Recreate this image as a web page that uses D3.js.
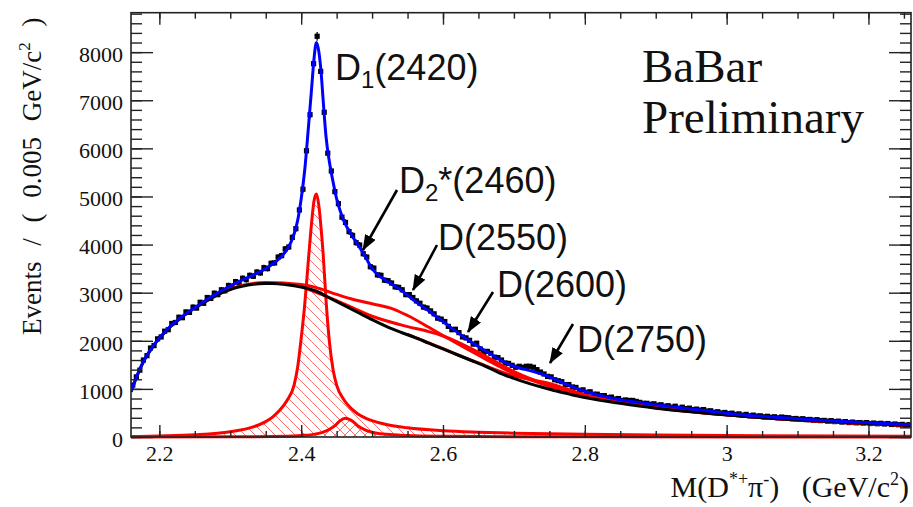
<!DOCTYPE html>
<html><head><meta charset="utf-8">
<script src="https://cdn.jsdelivr.net/npm/d3@7"></script>
<style>body{margin:0;background:#fff} svg{display:block}</style>
</head><body>
<svg id="c" width="913" height="507"></svg>
<script>
// ---------- data ----------
const binStart = 2.16, binWidth = 0.005;
const counts = [
1080,1250,1390,1600,1690,1850,1900,2040,2080,2200,
2230,2360,2380,2490,2480,2600,2590,2700,2680,2800,
2780,2900,2880,2990,2960,3060,3040,3150,3130,3230,
3200,3300,3270,3360,3340,3430,3410,3520,3500,3610,
3620,3740,3770,3910,3950,4150,4330,4720,5150,5950,
6700,7760,8330,7600,6750,5900,5530,5100,4850,4570,
4460,4270,4190,4040,3990,3810,3740,3540,3510,3370,
3360,3260,3250,3200,3120,3110,3060,2960,2960,2900,
2830,2780,2700,2680,2620,2560,2470,2450,2400,2300,
2230,2240,2170,2080,2060,2010,1930,1950,1830,1760,
1780,1740,1660,1650,1600,1540,1530,1490,1450,1470,
1450,1470,1470,1450,1400,1350,1310,1260,1250,1190,
1170,1150,1090,1090,1040,1030,970,980,930,940,
890,890,860,860,820,830,790,800,760,770,
760,760,740,720,700,700,680,690,660,670,
640,650,620,640,600,620,590,600,570,580,
560,570,540,545,515,525,500,510,485,495,
470,480,455,470,440,455,435,440,420,430,
410,420,400,415,405,400,380,385,370,380,
360,365,350,360,340,345,330,340,320,330,
310,320,300,310,295,300,290,300,280,290,
275,285,270,280,260,270,255,262,245,255];

const fitMass = [2.16,2.17,2.18,2.19,2.20,2.21,2.22,2.23,2.24,2.25,2.26,2.27,2.28,2.29,2.30,2.31,2.32,2.33,2.34,2.35,2.36,2.37,2.38,2.385,2.39,2.395,2.40,2.405,2.41,2.415,2.418,2.4215,2.425,2.428,2.431,2.435,2.44,2.445,2.45,2.455,2.46,2.47,2.48,2.49,2.50,2.51,2.52,2.53,2.54,2.55,2.56,2.57,2.58,2.59,2.60,2.61,2.62,2.63,2.64,2.65,2.66,2.67,2.68,2.69,2.70,2.71,2.72,2.73,2.74,2.75,2.76,2.77,2.78,2.79,2.80,2.82,2.84,2.86,2.88,2.90,2.92,2.94,2.96,2.98,3.00,3.05,3.10,3.15,3.20,3.26];
const fitTotal = [940,1330,1640,1870,2060,2220,2360,2480,2590,2690,2790,2885,2975,3060,3140,3215,3285,3350,3420,3500,3600,3720,3900,4030,4220,4500,4950,5550,6400,7300,7850,8200,8000,7600,7000,6250,5700,5300,4950,4700,4500,4220,4000,3760,3500,3350,3250,3160,3060,2950,2830,2720,2620,2510,2400,2290,2180,2070,1970,1880,1790,1700,1610,1530,1470,1425,1390,1350,1305,1250,1190,1120,1060,1000,950,870,800,750,710,670,635,600,565,530,495,430,380,335,295,255];

const bkgMass = [2.16,2.17,2.18,2.19,2.20,2.21,2.22,2.23,2.24,2.25,2.26,2.27,2.28,2.29,2.30,2.31,2.32,2.33,2.34,2.35,2.36,2.37,2.38,2.39,2.40,2.42,2.44,2.46,2.48,2.50,2.52,2.54,2.56,2.58,2.60,2.62,2.64,2.66,2.68,2.70,2.72,2.74,2.76,2.78,2.80,2.85,2.90,2.95,3.00,3.05,3.10,3.15,3.20,3.26];
const bkgValues = [940,1320,1630,1860,2050,2210,2350,2470,2580,2680,2770,2860,2940,3010,3065,3110,3145,3170,3185,3190,3190,3180,3165,3145,3120,3040,2890,2740,2590,2440,2300,2180,2070,1950,1830,1710,1590,1470,1330,1220,1120,1035,955,885,820,700,600,525,455,400,355,315,280,240];

const d1Mass = [2.16,2.20,2.25,2.30,2.33,2.35,2.36,2.37,2.38,2.39,2.395,2.40,2.405,2.41,2.415,2.418,2.4215,2.425,2.428,2.431,2.435,2.44,2.445,2.45,2.46,2.47,2.48,2.50,2.52,2.55,2.60,2.65,2.70,2.80,2.90,3.00,3.26];
const d1Values = [8,20,45,110,200,320,420,560,760,1080,1450,2050,2750,3650,4500,4900,5050,4800,4350,3800,2850,1950,1400,1080,780,600,480,340,260,190,130,100,80,55,40,30,15];

const d2Mass = [2.16,2.30,2.38,2.40,2.42,2.43,2.44,2.45,2.455,2.462,2.47,2.475,2.48,2.49,2.50,2.52,2.55,2.60,2.70,2.80,3.26];
const d2Values = [0,3,15,30,60,95,160,270,340,390,350,300,230,150,100,55,30,15,6,3,0];

const d2550Mass = [2.25,2.30,2.35,2.40,2.42,2.45,2.47,2.50,2.53,2.55,2.58,2.60,2.65,2.70,2.75,2.80,2.90,3.00,3.10,3.26];
const d2550Values = [2682,3075,3210,3170,3110,2965,2875,2770,2660,2525,2280,2110,1700,1320,1055,855,612,460,357,241];

const d2600Mass = [2.40,2.45,2.50,2.55,2.58,2.60,2.62,2.65,2.70,2.75,2.80,2.90,3.00,3.26];
const d2600Values = [3125,2835,2510,2295,2190,2100,1980,1760,1360,1070,860,615,460,240];

const d2750Mass = [2.55,2.60,2.65,2.70,2.73,2.75,2.77,2.80,2.85,2.90,3.00,3.26];
const d2750Values = [2135,1835,1540,1270,1175,1115,1020,875,720,610,460,240];

const xTickValues = [2.2,2.4,2.6,2.8,3.0,3.2];
const xTickLabels = ["2.2","2.4","2.6","2.8","3","3.2"];
const xMinorValues = d3.range(0,22).map(i => +(2.2 + i*0.05).toFixed(2)).filter(v => v <= 3.26);
const yTickValues = [0,1000,2000,3000,4000,5000,6000,7000,8000];
const yTickLabels = ["0","1000","2000","3000","4000","5000","6000","7000","8000"];
const yMinorValues = d3.range(0,45).map(i => i*200);

const peakLabels = [
  {main:"D", sub:"1", rest:"(2420)", x:335, y:80},
  {main:"D", sub:"2", rest:"*(2460)", x:399, y:193},
  {main:"D", sub:"", rest:"(2550)", x:438, y:250},
  {main:"D", sub:"", rest:"(2600)", x:497, y:297},
  {main:"D", sub:"", rest:"(2750)", x:577, y:352}
];
const arrows = [
  {x1:397,y1:190,x2:363,y2:250},
  {x1:437,y1:245,x2:413,y2:290},
  {x1:493,y1:292,x2:468,y2:332},
  {x1:573,y1:324,x2:550,y2:363}
];

// ---------- drawing ----------
const L=131, R=911, T=12.7, B=437;
const svg = d3.select("#c");
const x = d3.scaleLinear().domain([2.16,3.26]).range([L,R]);
const y = d3.scaleLinear().domain([0,8820]).range([B,T]);

const defs = svg.append("defs");
defs.append("clipPath").attr("id","clip").append("rect")
  .attr("x",L).attr("y",T).attr("width",R-L).attr("height",B-T+2);
const p1 = defs.append("pattern").attr("id","hatchA").attr("patternUnits","userSpaceOnUse")
  .attr("width",10).attr("height",10);
p1.append("path").attr("d","M0,0L10,10M-2,8L2,12M8,-2L12,2")
  .attr("stroke","#ff7070").attr("stroke-width",1).attr("fill","none");
const p2 = defs.append("pattern").attr("id","hatchB").attr("patternUnits","userSpaceOnUse")
  .attr("width",10).attr("height",10);
p2.append("path").attr("d","M0,10L10,0M-2,2L2,-2M8,12L12,8")
  .attr("stroke","#ff7070").attr("stroke-width",1).attr("fill","none");
defs.append("marker").attr("id","arrowHead").attr("markerUnits","userSpaceOnUse")
  .attr("viewBox","0 0 16 12").attr("refX",15).attr("refY",6)
  .attr("markerWidth",16).attr("markerHeight",12).attr("orient","auto")
  .append("path").attr("d","M0,0L16,6L0,12Z").attr("fill","#000");

const plot = svg.append("g").attr("clip-path","url(#clip)");
const pairs = (ms, vs) => ms.map((m,i)=>[m, vs[i]]);
const line = d3.line().x(d=>x(d[0])).y(d=>y(d[1])).curve(d3.curveMonotoneX);
const area = d3.area().x(d=>x(d[0])).y0(y(0)).y1(d=>y(d[1])).curve(d3.curveMonotoneX);

// hatched narrow peaks
plot.append("path").attr("d",area(pairs(d1Mass,d1Values))).attr("fill","url(#hatchA)");
plot.append("path").attr("d",area(pairs(d2Mass,d2Values))).attr("fill","url(#hatchB)");

// data points
const pts = counts.map((c,i)=>({m: binStart + binWidth*(i+0.5), v: c}));
const dg = plot.append("g");
dg.selectAll("line.err").data(pts).enter().append("line")
  .attr("x1",d=>x(d.m)).attr("x2",d=>x(d.m))
  .attr("y1",d=>y(d.v+Math.sqrt(d.v))).attr("y2",d=>y(d.v-Math.sqrt(d.v)))
  .attr("stroke","#000").attr("stroke-width",1.3);
dg.selectAll("rect.pt").data(pts).enter().append("rect")
  .attr("x",d=>x(d.m)-2.6).attr("y",d=>y(d.v)-2.6).attr("width",5.2).attr("height",5.2)
  .attr("fill","#000");

// component curves
const red = "#ff0000";
[[d1Mass,d1Values],[d2Mass,d2Values],[d2550Mass,d2550Values],[d2600Mass,d2600Values],[d2750Mass,d2750Values]]
 .forEach(([ms,vs])=>{
  plot.append("path").attr("d",line(pairs(ms,vs))).attr("fill","none")
    .attr("stroke",red).attr("stroke-width",3);
 });
plot.append("path").attr("d",line(pairs(bkgMass,bkgValues))).attr("fill","none")
  .attr("stroke","#000").attr("stroke-width",3);
plot.append("path").attr("d",line(pairs(fitMass,fitTotal))).attr("fill","none")
  .attr("stroke","#0000ff").attr("stroke-width",3);

// axes
const serif = "'Liberation Serif','Times New Roman',serif";
function styleAxis(g){ g.select(".domain").remove(); g.selectAll("line").attr("stroke","#222").attr("stroke-width",1.4); }
svg.append("g").attr("transform",`translate(0,${B})`)
  .call(d3.axisBottom(x).tickValues(xMinorValues).tickSize(-6).tickFormat("")).call(styleAxis);
svg.append("g").attr("transform",`translate(0,${B})`)
  .call(d3.axisBottom(x).tickValues(xTickValues).tickSize(-12).tickPadding(8)
  .tickFormat((d,i)=>xTickLabels[i])).call(styleAxis)
  .selectAll("text").attr("font-family",serif).attr("font-size",22).attr("fill","#111");
svg.append("g").attr("transform",`translate(0,${T})`)
  .call(d3.axisTop(x).tickValues(xMinorValues).tickSize(-6).tickFormat("")).call(styleAxis);
svg.append("g").attr("transform",`translate(0,${T})`)
  .call(d3.axisTop(x).tickValues(xTickValues).tickSize(-12).tickFormat("")).call(styleAxis);
svg.append("g").attr("transform",`translate(${L},0)`)
  .call(d3.axisLeft(y).tickValues(yMinorValues).tickSize(-11).tickFormat("")).call(styleAxis);
svg.append("g").attr("transform",`translate(${L},0)`)
  .call(d3.axisLeft(y).tickValues(yTickValues).tickSize(-22).tickPadding(8)
  .tickFormat((d,i)=>yTickLabels[i])).call(styleAxis)
  .selectAll("text").attr("font-family",serif).attr("font-size",22).attr("fill","#111").attr("dy","0.42em");
svg.append("g").attr("transform",`translate(${R},0)`)
  .call(d3.axisRight(y).tickValues(yMinorValues).tickSize(-11).tickFormat("")).call(styleAxis);
svg.append("g").attr("transform",`translate(${R},0)`)
  .call(d3.axisRight(y).tickValues(yTickValues).tickSize(-22).tickFormat("")).call(styleAxis);
svg.append("rect").attr("x",L).attr("y",T).attr("width",R-L).attr("height",B-T)
  .attr("fill","none").attr("stroke","#222").attr("stroke-width",1.6);

// axis titles
const yt = svg.append("text").attr("transform","translate(41,335) rotate(-90)")
  .attr("font-family",serif).attr("font-size",27).attr("fill","#111")
  .attr("word-spacing",9).style("white-space","pre");
yt.append("tspan").text("Events / ( 0.005 GeV/c");
yt.append("tspan").attr("font-size",17).attr("dy",-11).text("2");
yt.append("tspan").attr("dy",11).text(" )");

const xt = svg.append("text").attr("x",909).attr("y",497).attr("text-anchor","end")
  .attr("font-family",serif).attr("font-size",30).attr("fill","#111").style("white-space","pre");
xt.append("tspan").text("M(D");
xt.append("tspan").attr("font-size",18).attr("dy",-12).text("*+");
xt.append("tspan").attr("dy",12).text("\u03c0");
xt.append("tspan").attr("font-size",18).attr("dy",-12).text("-");
xt.append("tspan").attr("dy",12).text(")   (GeV/c");
xt.append("tspan").attr("font-size",18).attr("dy",-12).text("2");
xt.append("tspan").attr("dy",12).text(")");

// BaBar Preliminary
svg.append("text").attr("x",642).attr("y",82).attr("font-family",serif).attr("font-size",47)
  .attr("fill","#111").text("BaBar");
svg.append("text").attr("x",642).attr("y",133).attr("font-family",serif).attr("font-size",47)
  .attr("fill","#111").text("Preliminary");

// annotations
const sans = "'Liberation Sans',Arial,sans-serif";
peakLabels.forEach(p=>{
  const t = svg.append("text").attr("x",p.x).attr("y",p.y).attr("font-family",sans)
    .attr("font-size",36).attr("fill","#111");
  t.append("tspan").text(p.main);
  if (p.sub){
    t.append("tspan").attr("font-size",24).attr("dy",8).text(p.sub);
    t.append("tspan").attr("dy",-8).text(p.rest);
  } else t.append("tspan").text(p.rest);
});
arrows.forEach(a=>{
  svg.append("line").attr("x1",a.x1).attr("y1",a.y1).attr("x2",a.x2).attr("y2",a.y2)
    .attr("stroke","#000").attr("stroke-width",2.6).attr("marker-end","url(#arrowHead)");
});
</script>
</body></html>
